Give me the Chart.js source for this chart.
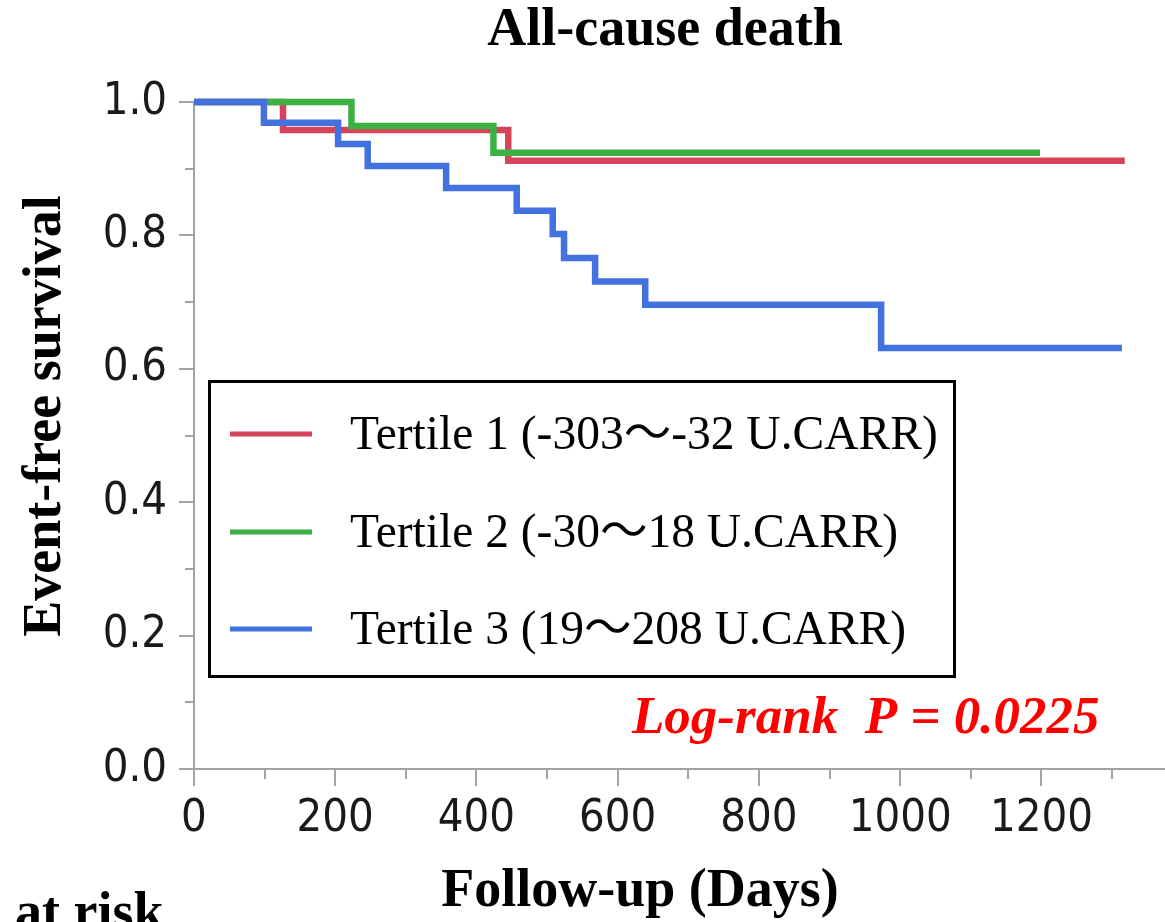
<!DOCTYPE html>
<html><head><meta charset="utf-8">
<script src="https://cdn.jsdelivr.net/npm/chart.js@4.4.0/dist/chart.umd.min.js"></script>
<style>html,body{margin:0;padding:0;background:#fff;overflow:hidden}#wrap{width:1165px;height:922px;position:relative}</style>
</head><body><div id="wrap"><canvas id="c" width="1165" height="922"></canvas></div>
<script>
// ---- data ----
const seriesLabels = ['Tertile 1 (-303～-32 U.CARR)', 'Tertile 2 (-30～18 U.CARR)', 'Tertile 3 (19～208 U.CARR)'];
const t1Days = [0, 126, 445, 1318];
const t1Surv = [1.0, 0.958, 0.912, 0.912];
const t2Days = [0, 223, 424, 1198];
const t2Surv = [1.0, 0.964, 0.924, 0.924];
const t3Days = [0, 99, 204, 246, 357, 457, 508, 524, 568, 639, 973, 1314];
const t3Surv = [1.0, 0.969, 0.937, 0.904, 0.871, 0.837, 0.802, 0.766, 0.731, 0.696, 0.631, 0.631];
const xTickValues = [0, 200, 400, 600, 800, 1000, 1200];
const yTickValues = [0, 0.2, 0.4, 0.6, 0.8, 1.0];
const chartTitle = 'All-cause death';
const xTitle = 'Follow-up (Days)';
const yTitle = 'Event-free survival';
const pText = 'Log-rank  P = 0.0225';
const riskText = 'at risk';

const colors = ['#d6435a', '#3cb043', '#4172e0'];
const serif = "'Liberation Serif', 'Noto Sans CJK JP', serif";
const tickFamily = "'DejaVu Sans Condensed', 'DejaVu Sans', sans-serif";
function pts(xs, ys) { return xs.map((x, i) => ({ x: x, y: ys[i] })); }

const decor = {
  id: 'decor',
  afterDraw(chart) {
    const ctx = chart.ctx, xs = chart.scales.x, ys = chart.scales.y, ca = chart.chartArea;
    ctx.save();
    ctx.strokeStyle = '#a3a3a3'; ctx.lineWidth = 2;
    for (let v = 0; v <= xs.max; v += 100) {
      const px = Math.round(xs.getPixelForValue(v));
      const len = (v % 200 === 0) ? 17 : 10;
      ctx.beginPath(); ctx.moveTo(px, ca.bottom); ctx.lineTo(px, ca.bottom + len); ctx.stroke();
    }
    for (let k = 0; k <= 10; k++) {
      const py = Math.round(ys.getPixelForValue(k / 10));
      const len = (k % 2 === 0) ? 15 : 9;
      ctx.beginPath(); ctx.moveTo(ca.left, py); ctx.lineTo(ca.left - len, py); ctx.stroke();
    }
    // titles
    ctx.fillStyle = '#000';
    ctx.font = 'bold 54px ' + serif;
    ctx.textAlign = 'center'; ctx.textBaseline = 'alphabetic';
    ctx.fillText(chartTitle, 665, 45);
    ctx.fillText(xTitle, 640, 906);
    ctx.textAlign = 'left';
    ctx.fillText(riskText, 15, 929);
    ctx.save();
    ctx.translate(60, 416); ctx.rotate(-Math.PI / 2);
    ctx.textAlign = 'center';
    ctx.fillText(yTitle, 0, 0);
    ctx.restore();
    // p value
    ctx.fillStyle = '#ff0000';
    ctx.font = 'italic bold 53px ' + serif;
    ctx.textAlign = 'left';
    ctx.fillText(pText, 632, 733);
    // legend box
    ctx.strokeStyle = '#000'; ctx.lineWidth = 3;
    ctx.strokeRect(209.5, 381.5, 745, 295);
    const rows = [434, 532, 629];
    chart.data.datasets.forEach((ds, i) => {
      ctx.strokeStyle = ds.borderColor; ctx.lineWidth = 5;
      ctx.beginPath(); ctx.moveTo(230, rows[i]); ctx.lineTo(312, rows[i]); ctx.stroke();
      ctx.fillStyle = '#000';
      ctx.font = '47.5px ' + serif;
      ctx.fillText(ds.label, 350, rows[i] + 15);
    });
    ctx.restore();
  }
};

new Chart(document.getElementById('c'), {
  type: 'line',
  data: {
    datasets: [
      { label: seriesLabels[0], data: pts(t1Days, t1Surv), borderColor: colors[0], order: 3 },
      { label: seriesLabels[1], data: pts(t2Days, t2Surv), borderColor: colors[1], order: 2 },
      { label: seriesLabels[2], data: pts(t3Days, t3Surv), borderColor: colors[2], order: 1 }
    ].map(d => Object.assign(d, { stepped: true, borderWidth: 6.5, pointRadius: 0, fill: false, clip: false, borderCapStyle: 'butt', borderJoinStyle: 'miter', tension: 0 }))
  },
  options: {
    responsive: false, animation: false,
    layout: { padding: { top: 102, left: 0, right: 0, bottom: 0 } },
    plugins: { legend: { display: false }, tooltip: { enabled: false }, title: { display: false } },
    scales: {
      x: {
        type: 'linear', min: 0, max: 1375,
        grid: { display: false },
        border: { display: true, color: '#a3a3a3', width: 2 },
        afterBuildTicks: s => { s.ticks = xTickValues.map(v => ({ value: v })); },
        afterFit: s => { s.height = 153; },
        ticks: { padding: 15, color: '#1a1a1a', font: { family: tickFamily, size: 45 }, maxRotation: 0, autoSkip: false, callback: v => String(v) }
      },
      y: {
        type: 'linear', min: 0, max: 1.0,
        grid: { display: false },
        border: { display: true, color: '#a3a3a3', width: 2 },
        afterBuildTicks: s => { s.ticks = yTickValues.map(v => ({ value: v })); },
        afterFit: s => { s.width = 194; },
        ticks: { padding: 19, color: '#1a1a1a', font: { family: tickFamily, size: 45 }, callback: v => Number(v).toFixed(1) }
      }
    }
  },
  plugins: [decor]
});
</script></body></html>
